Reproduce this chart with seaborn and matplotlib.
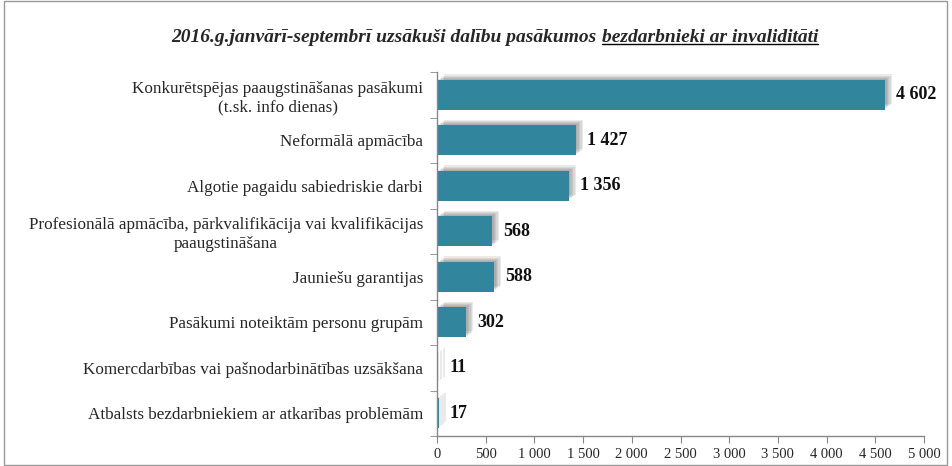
import matplotlib
matplotlib.use('Agg')

import matplotlib.pyplot as plt
import matplotlib.patheffects as pe
import seaborn as sns
import pandas as pd

# -----------------------------
# DATA
# -----------------------------
categories = [
    "Konkurētspējas paaugstināšanas pasākumi\n(t.sk. info dienas)",
    "Neformālā apmācība",
    "Algotie pagaidu sabiedriskie darbi",
    "Profesionālā apmācība, pārkvalifikācija vai kvalifikācijas\npaaugstināšana",
    "Jauniešu garantijas",
    "Pasākumi noteiktām personu grupām",
    "Komercdarbības vai pašnodarbinātības uzsākšana",
    "Atbalsts bezdarbniekiem ar atkarības problēmām",
]
values = [4602, 1427, 1356, 568, 588, 302, 11, 17]
x_ticks = [0, 500, 1000, 1500, 2000, 2500, 3000, 3500, 4000, 4500, 5000]

df = pd.DataFrame({"cat": categories, "val": values})

# -----------------------------
# PLOT
# -----------------------------
sns.set_style("white")
plt.rcParams['font.family'] = ['Liberation Serif', 'DejaVu Serif']

fig = plt.figure(figsize=(9.52, 4.66), dpi=100)
ax = fig.add_axes([437 / 952, 1 - 436 / 466, (924 - 437) / 952, (436 - 72) / 466])

sns.barplot(data=df, y="cat", x="val", color="#31859C", saturation=1,
            width=0.65, ax=ax, orient="h")

# soft glow-like shadow (stacked faint shadows)
shadow = [pe.SimplePatchShadow(offset=(o, o * 0.8), shadow_rgbFace="#555555", alpha=0.12)
          for o in (5, 4, 3, 2, 1)] + [pe.Normal()]
for p in ax.patches:
    p.set_path_effects(shadow)
    p.set_edgecolor("none")

labels = [f"{v:,}".replace(",", " ") for v in values]
ax.bar_label(ax.containers[0], labels=labels, padding=8,
             fontsize=13, fontweight="bold", color="#111111")

ax.set_xlim(0, 5000)
ax.set_xticks(x_ticks)
ax.set_xticklabels([f"{t:,}".replace(",", " ") for t in x_ticks], fontsize=10.5)
ax.set_ylim(len(categories) - 0.5, -0.5)
ax.set_yticks(range(len(categories)))
ax.set_yticklabels(categories, fontsize=12.3, ha="right", multialignment="center")
ax.tick_params(axis="y", which="major", pad=10, length=0)
ax.set_xlabel("")
ax.set_ylabel("")

for side in ["top", "right"]:
    ax.spines[side].set_visible(False)
for side in ["left", "bottom"]:
    ax.spines[side].set_color("#888888")
    ax.spines[side].set_linewidth(1)

# category separator ticks on the y axis
ax.set_yticks([i - 0.5 for i in range(len(categories) + 1)], minor=True)
ax.tick_params(axis="y", which="minor", left=True, length=5, color="#888888", direction="out")
ax.tick_params(axis="x", length=5, color="#888888", direction="out", bottom=True)

# title with underlined part
ty = 1 - 37 / 466
t1 = fig.text(0.632, ty, "2016.g.janvārī-septembrī uzsākuši dalību pasākumos ",
              ha="right", va="center", fontsize=14, fontweight="bold", fontstyle="italic")
t2 = fig.text(0.632, ty, "bezdarbnieki ar invaliditāti",
              ha="left", va="center", fontsize=14, fontweight="bold", fontstyle="italic")
fig.canvas.draw()
bb = t2.get_window_extent().transformed(fig.transFigure.inverted())
fig.add_artist(plt.Line2D([bb.x0, bb.x1], [bb.y0 + 0.004, bb.y0 + 0.004],
                          transform=fig.transFigure, color="black", lw=1))

# outer frame
fig.add_artist(plt.Rectangle((4 / 952, 0.002), 943 / 952, 0.996, transform=fig.transFigure,
                             fill=False, edgecolor="#999999", lw=1))

plt.savefig("out.png", dpi=100)
plt.close()
